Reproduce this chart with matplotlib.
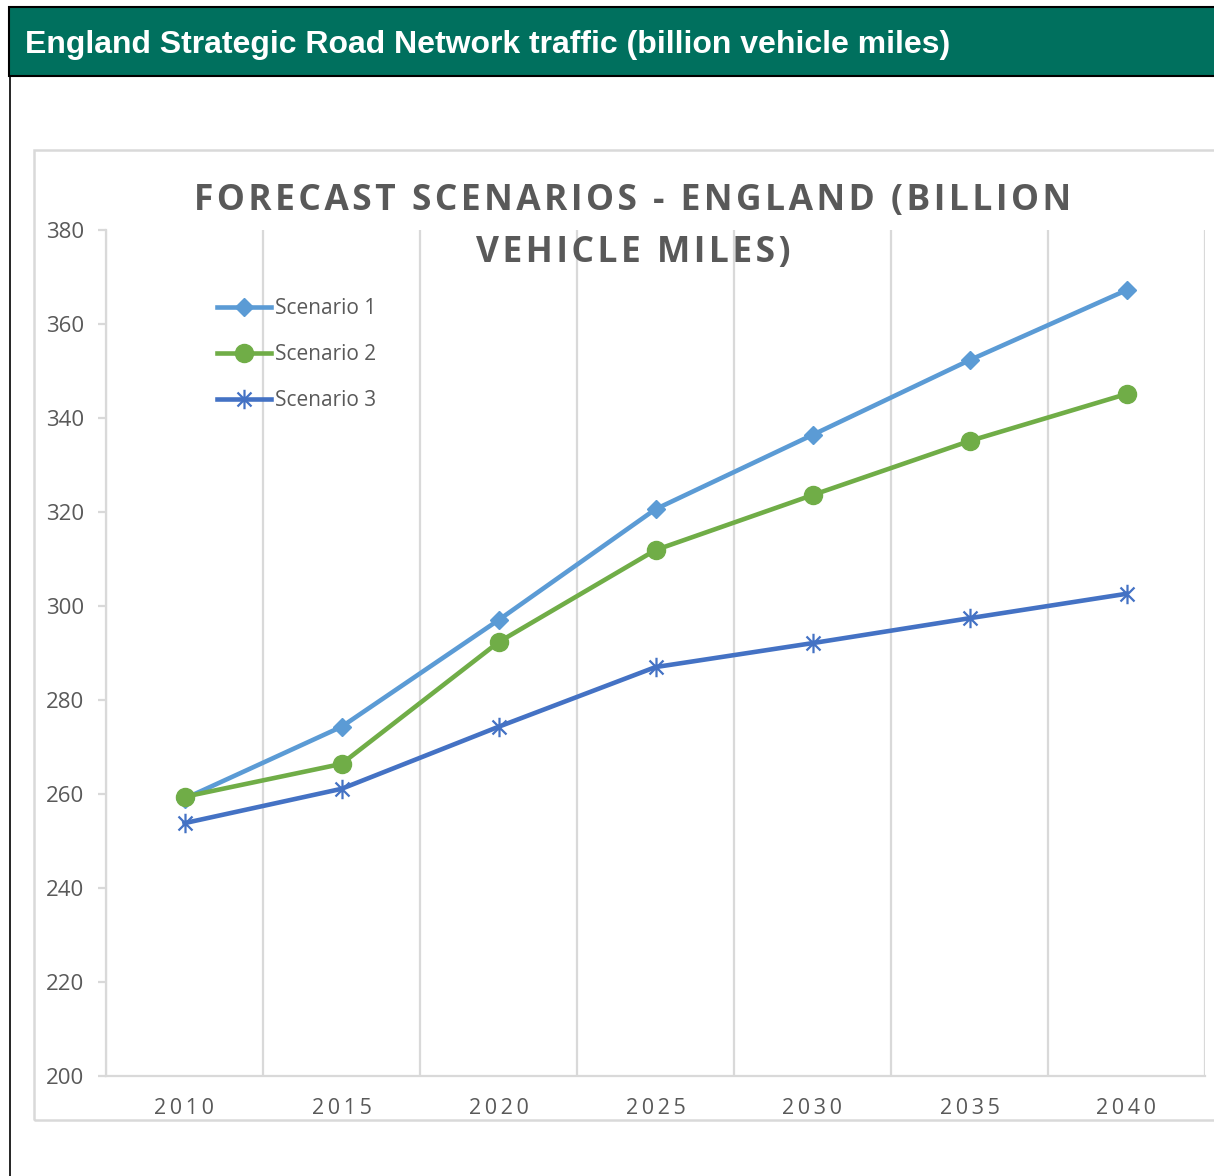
import matplotlib
matplotlib.use("Agg")
import matplotlib.pyplot as plt
from matplotlib.patches import Rectangle
from matplotlib.lines import Line2D
from matplotlib.path import Path

years = ["2010", "2015", "2020", "2025", "2030", "2035", "2040"]
scenario1 = [259.0, 274.3, 297.0, 320.6, 336.4, 352.3, 367.2]
scenario2 = [259.4, 266.4, 292.3, 311.9, 323.6, 335.1, 345.1]
scenario3 = [253.8, 261.1, 274.3, 287.0, 292.1, 297.4, 302.6]
series_names = ["Scenario 1", "Scenario 2", "Scenario 3"]
y_ticks = [200, 220, 240, 260, 280, 300, 320, 340, 360, 380]

W, H = 1214, 1176
fig = plt.figure(figsize=(W / 100, H / 100), dpi=100)
fig.patch.set_facecolor("white")

FONT = ["Open Sans", "DejaVu Sans"]
GRAY_TXT = "#595959"
GRID = "#D9D9D9"

def fx(px):
    return px / W

def fy(py):
    return 1 - py / H

# header bar
fig.patches.append(Rectangle((fx(9), fy(76)), fx(1230 - 9), (76 - 7) / H,
                             transform=fig.transFigure, facecolor="#00705E",
                             edgecolor="black", linewidth=1.5, zorder=0))
fig.add_artist(Line2D([fx(9.5), fx(9.5)], [fy(76), fy(1180)], transform=fig.transFigure,
                      color="black", linewidth=1.2))
fig.text(fx(25), fy(44.5), "England Strategic Road Network traffic (billion vehicle miles)",
         color="white", fontsize=23, fontweight="bold", family="Liberation Sans",
         va="center", ha="left")

# chart box
fig.patches.append(Rectangle((fx(34), fy(1120)), fx(1240 - 34), (1120 - 150) / H,
                             transform=fig.transFigure, facecolor="none",
                             edgecolor=GRID, linewidth=1.8, zorder=0))

ax = fig.add_axes([fx(106), fy(1076), fx(1205 - 106), (1076 - 230) / H])
x = list(range(len(years)))

d = 0.72
star = Path([(0, -1), (0, 1), (-d, -d), (d, d), (-d, d), (d, -d)],
            [Path.MOVETO, Path.LINETO, Path.MOVETO, Path.LINETO, Path.MOVETO, Path.LINETO])

ax.plot(x, scenario1, color="#5B9BD5", linewidth=3.3, marker="D", markersize=9.5,
        label=series_names[0], zorder=3, clip_on=False)
ax.plot(x, scenario2, color="#70AD47", linewidth=3.3, marker="o", markersize=13,
        label=series_names[1], zorder=3, clip_on=False)
ax.plot(x, scenario3, color="#4472C4", linewidth=3.3, marker=star, markersize=14,
        markeredgewidth=1.6, label=series_names[2], zorder=3, clip_on=False)

ax.set_xlim(-0.5, len(years) - 0.5)
ax.set_ylim(200, 380)
ax.set_yticks(y_ticks)
ax.set_yticklabels([str(v) for v in y_ticks], fontsize=16, color=GRAY_TXT, family=FONT)
ax.set_xticks(x)
spaced = ["\u2009".join(list(y)) for y in years]
ax.set_xticklabels(spaced, fontsize=15.5, color=GRAY_TXT, family=FONT)
ax.set_xticks([i - 0.5 for i in range(len(years) + 1)], minor=True)
ax.grid(True, which="minor", axis="x", color=GRID, linewidth=1.6)
ax.tick_params(axis="x", which="both", length=0, pad=16)
ax.tick_params(axis="y", which="major", length=6, width=1.6, color=GRID, pad=10)

for s in ["top", "right"]:
    ax.spines[s].set_visible(False)
ax.spines["left"].set_color(GRID)
ax.spines["left"].set_linewidth(1.6)
ax.spines["bottom"].set_color(GRID)
ax.spines["bottom"].set_linewidth(1.6)

title1 = "FORECAST SCENARIOS - ENGLAND (BILLION"
title2 = "VEHICLE MILES)"
def spaced_title(t):
    return "\u200a".join(list(t))
fig.text(fx(633), fy(201), spaced_title(title1), fontsize=25.5, fontweight="bold",
         color=GRAY_TXT, family=FONT, ha="center", va="center")
fig.text(fx(633), fy(253), spaced_title(title2), fontsize=25.5, fontweight="bold",
         color=GRAY_TXT, family=FONT, ha="center", va="center")

leg = ax.legend(loc="upper left",
                bbox_to_anchor=((217 - 106) / (1205 - 106), (1076 - 298) / (1076 - 230)),
                frameon=False, handlelength=2.6, handletextpad=0.2,
                labelspacing=1.2, borderaxespad=0, borderpad=0,
                prop={"family": FONT, "size": 15})
for t in leg.get_texts():
    t.set_color(GRAY_TXT)

fig.savefig("out.png", dpi=100)
